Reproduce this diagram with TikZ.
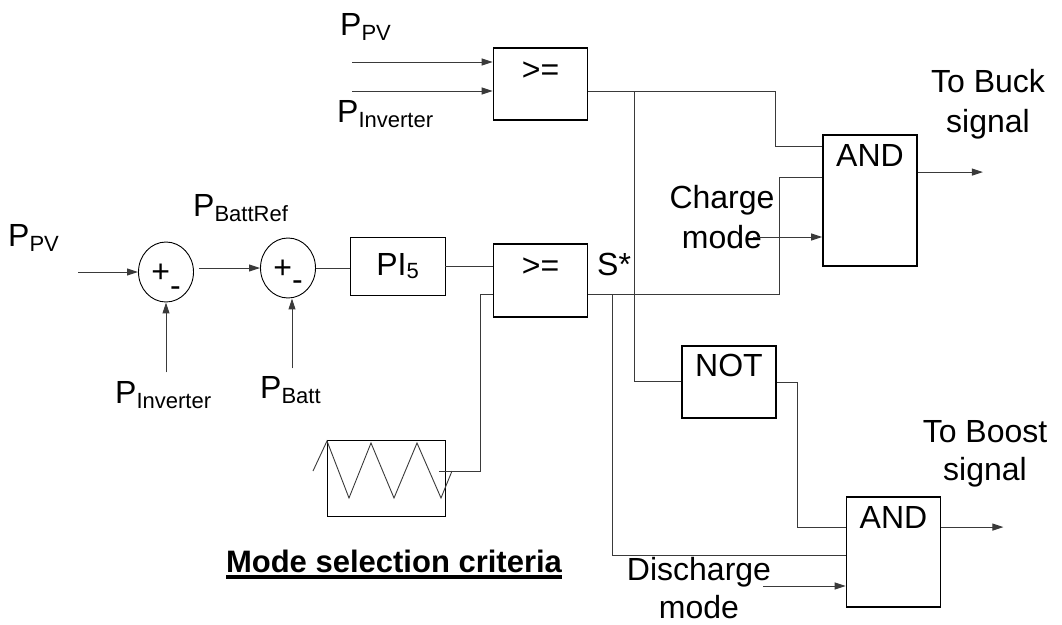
\documentclass[tikz,border=0pt]{standalone}
\usepackage{fontspec}
\setmainfont{Liberation Sans}
\usetikzlibrary{shapes.geometric,arrows.meta}
\definecolor{wiregray}{HTML}{3A3A3A}
\newcommand{\bigtxt}{\fontsize{32}{40}\selectfont}
\newcommand{\subtxt}{\fontsize{22}{22}\selectfont}
\newcommand{\Psub}[1]{P\raisebox{-5pt}{\subtxt #1}}
\newcommand{\ulbold}[1]{\vtop{\hbox{#1}\kern3pt\hrule height 3.5pt}}

\begin{document}
\begin{tikzpicture}[x=1pt,y=-1pt,
    font=\bigtxt,
    gate/.style={draw,line width=1.8pt,inner sep=0pt,minimum width=94pt},
    block/.style={draw,line width=0.9pt,inner sep=0pt},
    sumnode/.style={draw,ellipse,line width=0.9pt,inner sep=0pt,minimum width=55pt,
      minimum height=60pt,text height=25pt,text depth=4pt},
    txt/.style={inner sep=0pt,anchor=base west},
    note/.style={inner sep=0pt,align=center,anchor=base},
    wire/.style={wiregray,line width=1pt},
    sig/.style={wire,-{Triangle[length=11pt,width=7pt]}}]
  % page is 1062 x 624, y runs downward
  \useasboundingbox (0,0) rectangle (1062,624);

  % logic blocks, text sits near the top edge
  \node[gate,text height=32pt,text depth=40pt] (cmpA) at (540.5,84) {>=};
  \node[gate,text height=32pt,text depth=41pt] (cmpB) at (540.5,280.5) {>=};
  \node[gate,text height=31pt,text depth=100pt] (and1) at (870,200.5) {AND};
  \node[gate,text height=30pt,text depth=42pt] (notg) at (729,382) {NOT};
  \node[gate,text height=31pt,text depth=79pt] (and2) at (893.5,552) {AND};

  % PI controller, summers and carrier
  \node[sumnode] (sum1) at (166,272) {+\raisebox{-14pt}{-}\hspace{8pt}};
  \node[sumnode] (sum2) at (288,268) {+\raisebox{-12pt}{-}\hspace{8pt}};
  \node[block,minimum width=95pt,minimum height=58pt] (pi) at (397.5,266) {PI\raisebox{-3pt}{\subtxt 5}};
  \node[block,minimum width=118pt,minimum height=76pt] (tri) at (386,478) {};
  \draw[wire,line width=0.9pt] (313,471) -- (327,441) -- (349,498) -- (371,443) -- (394,498)
    -- (417,443) -- (441,498) -- (452,471);

  % labels
  \node[txt] (pvTop) at (340,35) {\Psub{PV}};
  \node[txt] (invTop) at (337,122) {\Psub{Inverter}};
  \node[txt] (pvLeft) at (8,246) {\Psub{PV}};
  \node[txt] (battRef) at (193,216) {\Psub{BattRef}};
  \node[txt] (invLow) at (115,403) {\Psub{Inverter}};
  \node[txt] (batt) at (260,398) {\Psub{Batt}};
  \node[txt] (sStar) at (597,275) {S*};
  % multi-line notes: base is the last line
  \node[note] (chg) at (722,248) {Charge\\mode};
  \node[note] (dch) at (699,618) {Discharge\\[-2pt]mode};
  \node[note] (buck) at (988,132) {To Buck\\signal};
  \node[note] (boost) at (985,480) {To Boost\\[-2pt]signal};
  \node[note,font=\fontsize{31}{40}\selectfont] (title) at (394,572) {\bfseries\ulbold{Mode selection criteria}};

  % comparator A
  \coordinate (pvA) at (352,62);
  \coordinate (invA) at (352,91);
  \draw[sig] (pvA) -- (pvA -| cmpA.west);
  \draw[sig] (invA) -- (invA -| cmpA.west);
  \coordinate (jA) at (634,91);
  \draw[wire] (invA -| cmpA.east) -| ([xshift=-47pt,yshift=-12pt]and1.north west)
    -- ([yshift=-12pt]and1.north west);
  \draw[wire] (jA) |- ([yshift=-36pt]notg.north west);

  % power loop
  \coordinate (pvIn) at (78,272);
  \draw[sig] (pvIn) -- (sum1.west);
  \draw[sig] ([xshift=5pt]sum1.east |- sum2.west) -- (sum2.west);
  \draw[sig] ([yshift=-70pt]sum1.south) -- (sum1.south);
  \draw[sig] ([xshift=4pt,yshift=-70pt]sum2.south) -- ([xshift=4pt]sum2.south);
  \draw[wire] (sum2.east) -- (sum2.east -| pi.west);
  \draw[wire] (pi.east) -- (pi.east -| cmpB.west);
  \draw[wire] ([xshift=-6pt,yshift=7pt]tri.east) -| ([xshift=-12pt,yshift=-51pt]cmpB.north west)
    -- ([yshift=-51pt]cmpB.north west);

  % S* to both AND gates
  \coordinate (jB) at (612,295);
  \draw[wire] ([yshift=-51pt]cmpB.north east) -| ([xshift=-43pt,yshift=-43pt]and1.north west)
    -- ([yshift=-43pt]and1.north west);
  \draw[wire] (jB) |- ([yshift=-59pt]and2.north west);
  \draw[wire] ([yshift=-37pt]notg.north east) -| ([xshift=-48pt,yshift=-31pt]and2.north west)
    -- ([yshift=-31pt]and2.north west);

  % mode inputs and outputs
  \coordinate (chgIn) at (753,237);
  \draw[sig] (chgIn) -- (chgIn -| and1.west);
  \coordinate (dchIn) at (763,586);
  \draw[sig] (dchIn) -- (dchIn -| and2.west);
  \draw[sig] ([yshift=-38pt]and1.north east) -- ++(65,0) coordinate (buckOut);
  \draw[sig] ([yshift=-31pt]and2.north east) -- ++(62,0) coordinate (boostOut);
\end{tikzpicture}
\end{document}
